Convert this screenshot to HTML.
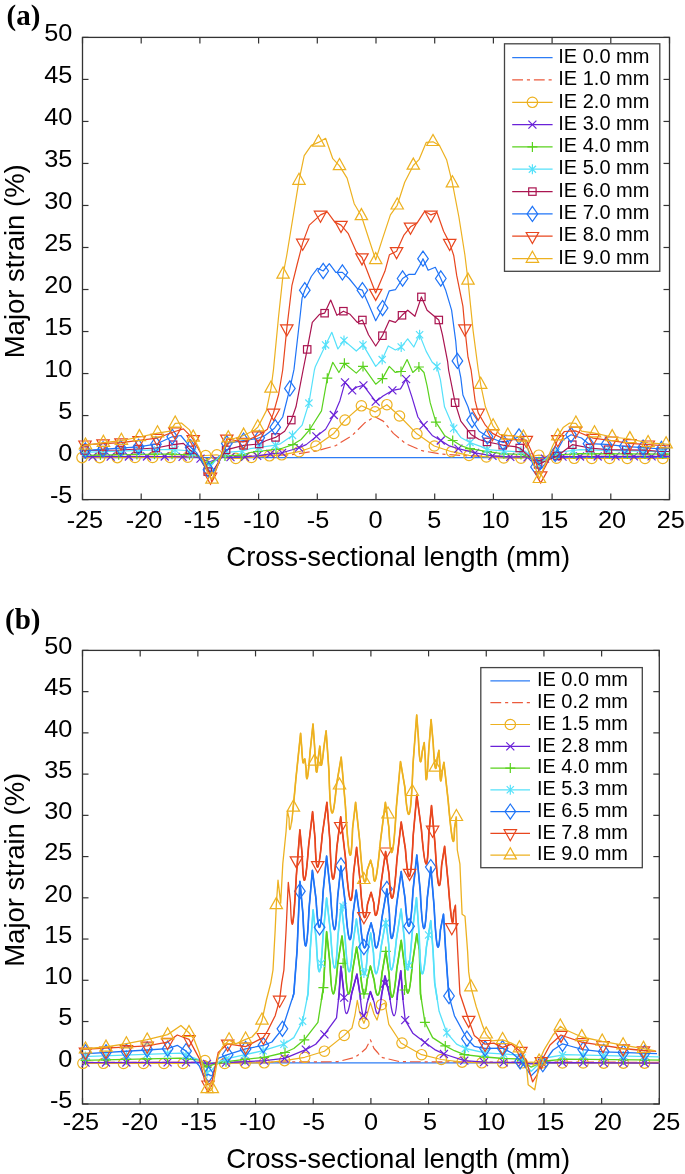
<!DOCTYPE html>
<html><head><meta charset="utf-8"><style>html,body{margin:0;padding:0;background:#fff;overflow:hidden}svg{display:block;will-change:transform}</style></head>
<body>
<svg width="685" height="1174" viewBox="0 0 685 1174">
<rect width="685" height="1174" fill="#fff"/>
<style>.tk{font-family:"Liberation Sans",sans-serif;font-size:23px;fill:#000}.lb{font-family:"Liberation Sans",sans-serif;font-size:27.5px;fill:#000}.lg{font-family:"Liberation Sans",sans-serif;font-size:20px;fill:#000}.pl{font-family:"Liberation Serif",serif;font-weight:bold;font-size:29px;fill:#000}</style>
<rect x="82.5" y="37.4" width="587.0" height="462.20000000000005" fill="none" stroke="#333333" stroke-width="1.3"/>
<line x1="82.50" y1="499.6" x2="82.50" y2="493.6" stroke="#333333" stroke-width="1.2"/>
<line x1="82.50" y1="37.4" x2="82.50" y2="43.4" stroke="#333333" stroke-width="1.2"/>
<line x1="141.20" y1="499.6" x2="141.20" y2="493.6" stroke="#333333" stroke-width="1.2"/>
<line x1="141.20" y1="37.4" x2="141.20" y2="43.4" stroke="#333333" stroke-width="1.2"/>
<line x1="199.90" y1="499.6" x2="199.90" y2="493.6" stroke="#333333" stroke-width="1.2"/>
<line x1="199.90" y1="37.4" x2="199.90" y2="43.4" stroke="#333333" stroke-width="1.2"/>
<line x1="258.60" y1="499.6" x2="258.60" y2="493.6" stroke="#333333" stroke-width="1.2"/>
<line x1="258.60" y1="37.4" x2="258.60" y2="43.4" stroke="#333333" stroke-width="1.2"/>
<line x1="317.30" y1="499.6" x2="317.30" y2="493.6" stroke="#333333" stroke-width="1.2"/>
<line x1="317.30" y1="37.4" x2="317.30" y2="43.4" stroke="#333333" stroke-width="1.2"/>
<line x1="376.00" y1="499.6" x2="376.00" y2="493.6" stroke="#333333" stroke-width="1.2"/>
<line x1="376.00" y1="37.4" x2="376.00" y2="43.4" stroke="#333333" stroke-width="1.2"/>
<line x1="434.70" y1="499.6" x2="434.70" y2="493.6" stroke="#333333" stroke-width="1.2"/>
<line x1="434.70" y1="37.4" x2="434.70" y2="43.4" stroke="#333333" stroke-width="1.2"/>
<line x1="493.40" y1="499.6" x2="493.40" y2="493.6" stroke="#333333" stroke-width="1.2"/>
<line x1="493.40" y1="37.4" x2="493.40" y2="43.4" stroke="#333333" stroke-width="1.2"/>
<line x1="552.10" y1="499.6" x2="552.10" y2="493.6" stroke="#333333" stroke-width="1.2"/>
<line x1="552.10" y1="37.4" x2="552.10" y2="43.4" stroke="#333333" stroke-width="1.2"/>
<line x1="610.80" y1="499.6" x2="610.80" y2="493.6" stroke="#333333" stroke-width="1.2"/>
<line x1="610.80" y1="37.4" x2="610.80" y2="43.4" stroke="#333333" stroke-width="1.2"/>
<line x1="669.50" y1="499.6" x2="669.50" y2="493.6" stroke="#333333" stroke-width="1.2"/>
<line x1="669.50" y1="37.4" x2="669.50" y2="43.4" stroke="#333333" stroke-width="1.2"/>
<line x1="82.5" y1="499.60" x2="88.5" y2="499.60" stroke="#333333" stroke-width="1.2"/>
<line x1="669.5" y1="499.60" x2="663.5" y2="499.60" stroke="#333333" stroke-width="1.2"/>
<line x1="82.5" y1="457.58" x2="88.5" y2="457.58" stroke="#333333" stroke-width="1.2"/>
<line x1="669.5" y1="457.58" x2="663.5" y2="457.58" stroke="#333333" stroke-width="1.2"/>
<line x1="82.5" y1="415.56" x2="88.5" y2="415.56" stroke="#333333" stroke-width="1.2"/>
<line x1="669.5" y1="415.56" x2="663.5" y2="415.56" stroke="#333333" stroke-width="1.2"/>
<line x1="82.5" y1="373.55" x2="88.5" y2="373.55" stroke="#333333" stroke-width="1.2"/>
<line x1="669.5" y1="373.55" x2="663.5" y2="373.55" stroke="#333333" stroke-width="1.2"/>
<line x1="82.5" y1="331.53" x2="88.5" y2="331.53" stroke="#333333" stroke-width="1.2"/>
<line x1="669.5" y1="331.53" x2="663.5" y2="331.53" stroke="#333333" stroke-width="1.2"/>
<line x1="82.5" y1="289.51" x2="88.5" y2="289.51" stroke="#333333" stroke-width="1.2"/>
<line x1="669.5" y1="289.51" x2="663.5" y2="289.51" stroke="#333333" stroke-width="1.2"/>
<line x1="82.5" y1="247.49" x2="88.5" y2="247.49" stroke="#333333" stroke-width="1.2"/>
<line x1="669.5" y1="247.49" x2="663.5" y2="247.49" stroke="#333333" stroke-width="1.2"/>
<line x1="82.5" y1="205.47" x2="88.5" y2="205.47" stroke="#333333" stroke-width="1.2"/>
<line x1="669.5" y1="205.47" x2="663.5" y2="205.47" stroke="#333333" stroke-width="1.2"/>
<line x1="82.5" y1="163.45" x2="88.5" y2="163.45" stroke="#333333" stroke-width="1.2"/>
<line x1="669.5" y1="163.45" x2="663.5" y2="163.45" stroke="#333333" stroke-width="1.2"/>
<line x1="82.5" y1="121.44" x2="88.5" y2="121.44" stroke="#333333" stroke-width="1.2"/>
<line x1="669.5" y1="121.44" x2="663.5" y2="121.44" stroke="#333333" stroke-width="1.2"/>
<line x1="82.5" y1="79.42" x2="88.5" y2="79.42" stroke="#333333" stroke-width="1.2"/>
<line x1="669.5" y1="79.42" x2="663.5" y2="79.42" stroke="#333333" stroke-width="1.2"/>
<line x1="82.5" y1="37.40" x2="88.5" y2="37.40" stroke="#333333" stroke-width="1.2"/>
<line x1="669.5" y1="37.40" x2="663.5" y2="37.40" stroke="#333333" stroke-width="1.2"/>
<text transform="translate(72.4,503.40) scale(1.1,1)" text-anchor="end" class="tk">-5</text>
<text transform="translate(72.4,461.38) scale(1.1,1)" text-anchor="end" class="tk">0</text>
<text transform="translate(72.4,419.36) scale(1.1,1)" text-anchor="end" class="tk">5</text>
<text transform="translate(72.4,377.35) scale(1.1,1)" text-anchor="end" class="tk">10</text>
<text transform="translate(72.4,335.33) scale(1.1,1)" text-anchor="end" class="tk">15</text>
<text transform="translate(72.4,293.31) scale(1.1,1)" text-anchor="end" class="tk">20</text>
<text transform="translate(72.4,251.29) scale(1.1,1)" text-anchor="end" class="tk">25</text>
<text transform="translate(72.4,209.27) scale(1.1,1)" text-anchor="end" class="tk">30</text>
<text transform="translate(72.4,167.25) scale(1.1,1)" text-anchor="end" class="tk">35</text>
<text transform="translate(72.4,125.24) scale(1.1,1)" text-anchor="end" class="tk">40</text>
<text transform="translate(72.4,83.22) scale(1.1,1)" text-anchor="end" class="tk">45</text>
<text transform="translate(72.4,41.20) scale(1.1,1)" text-anchor="end" class="tk">50</text>
<text transform="translate(84.90,528.3) scale(1.1,1)" text-anchor="middle" class="tk">-25</text>
<text transform="translate(144.00,528.3) scale(1.1,1)" text-anchor="middle" class="tk">-20</text>
<text transform="translate(202.10,528.3) scale(1.1,1)" text-anchor="middle" class="tk">-15</text>
<text transform="translate(261.50,528.3) scale(1.1,1)" text-anchor="middle" class="tk">-10</text>
<text transform="translate(318.10,528.3) scale(1.1,1)" text-anchor="middle" class="tk">-5</text>
<text transform="translate(375.60,528.3) scale(1.1,1)" text-anchor="middle" class="tk">0</text>
<text transform="translate(434.20,528.3) scale(1.1,1)" text-anchor="middle" class="tk">5</text>
<text transform="translate(495.50,528.3) scale(1.1,1)" text-anchor="middle" class="tk">10</text>
<text transform="translate(554.30,528.3) scale(1.1,1)" text-anchor="middle" class="tk">15</text>
<text transform="translate(612.10,528.3) scale(1.1,1)" text-anchor="middle" class="tk">20</text>
<text transform="translate(670.80,528.3) scale(1.1,1)" text-anchor="middle" class="tk">25</text>
<rect x="82.5" y="650.4" width="576.8" height="453.6" fill="none" stroke="#333333" stroke-width="1.3"/>
<line x1="82.50" y1="1104.0" x2="82.50" y2="1098.0" stroke="#333333" stroke-width="1.2"/>
<line x1="82.50" y1="650.4" x2="82.50" y2="656.4" stroke="#333333" stroke-width="1.2"/>
<line x1="140.18" y1="1104.0" x2="140.18" y2="1098.0" stroke="#333333" stroke-width="1.2"/>
<line x1="140.18" y1="650.4" x2="140.18" y2="656.4" stroke="#333333" stroke-width="1.2"/>
<line x1="197.86" y1="1104.0" x2="197.86" y2="1098.0" stroke="#333333" stroke-width="1.2"/>
<line x1="197.86" y1="650.4" x2="197.86" y2="656.4" stroke="#333333" stroke-width="1.2"/>
<line x1="255.54" y1="1104.0" x2="255.54" y2="1098.0" stroke="#333333" stroke-width="1.2"/>
<line x1="255.54" y1="650.4" x2="255.54" y2="656.4" stroke="#333333" stroke-width="1.2"/>
<line x1="313.22" y1="1104.0" x2="313.22" y2="1098.0" stroke="#333333" stroke-width="1.2"/>
<line x1="313.22" y1="650.4" x2="313.22" y2="656.4" stroke="#333333" stroke-width="1.2"/>
<line x1="370.90" y1="1104.0" x2="370.90" y2="1098.0" stroke="#333333" stroke-width="1.2"/>
<line x1="370.90" y1="650.4" x2="370.90" y2="656.4" stroke="#333333" stroke-width="1.2"/>
<line x1="428.58" y1="1104.0" x2="428.58" y2="1098.0" stroke="#333333" stroke-width="1.2"/>
<line x1="428.58" y1="650.4" x2="428.58" y2="656.4" stroke="#333333" stroke-width="1.2"/>
<line x1="486.26" y1="1104.0" x2="486.26" y2="1098.0" stroke="#333333" stroke-width="1.2"/>
<line x1="486.26" y1="650.4" x2="486.26" y2="656.4" stroke="#333333" stroke-width="1.2"/>
<line x1="543.94" y1="1104.0" x2="543.94" y2="1098.0" stroke="#333333" stroke-width="1.2"/>
<line x1="543.94" y1="650.4" x2="543.94" y2="656.4" stroke="#333333" stroke-width="1.2"/>
<line x1="601.62" y1="1104.0" x2="601.62" y2="1098.0" stroke="#333333" stroke-width="1.2"/>
<line x1="601.62" y1="650.4" x2="601.62" y2="656.4" stroke="#333333" stroke-width="1.2"/>
<line x1="659.30" y1="1104.0" x2="659.30" y2="1098.0" stroke="#333333" stroke-width="1.2"/>
<line x1="659.30" y1="650.4" x2="659.30" y2="656.4" stroke="#333333" stroke-width="1.2"/>
<line x1="82.5" y1="1104.00" x2="88.5" y2="1104.00" stroke="#333333" stroke-width="1.2"/>
<line x1="659.3" y1="1104.00" x2="653.3" y2="1104.00" stroke="#333333" stroke-width="1.2"/>
<line x1="82.5" y1="1062.76" x2="88.5" y2="1062.76" stroke="#333333" stroke-width="1.2"/>
<line x1="659.3" y1="1062.76" x2="653.3" y2="1062.76" stroke="#333333" stroke-width="1.2"/>
<line x1="82.5" y1="1021.53" x2="88.5" y2="1021.53" stroke="#333333" stroke-width="1.2"/>
<line x1="659.3" y1="1021.53" x2="653.3" y2="1021.53" stroke="#333333" stroke-width="1.2"/>
<line x1="82.5" y1="980.29" x2="88.5" y2="980.29" stroke="#333333" stroke-width="1.2"/>
<line x1="659.3" y1="980.29" x2="653.3" y2="980.29" stroke="#333333" stroke-width="1.2"/>
<line x1="82.5" y1="939.05" x2="88.5" y2="939.05" stroke="#333333" stroke-width="1.2"/>
<line x1="659.3" y1="939.05" x2="653.3" y2="939.05" stroke="#333333" stroke-width="1.2"/>
<line x1="82.5" y1="897.82" x2="88.5" y2="897.82" stroke="#333333" stroke-width="1.2"/>
<line x1="659.3" y1="897.82" x2="653.3" y2="897.82" stroke="#333333" stroke-width="1.2"/>
<line x1="82.5" y1="856.58" x2="88.5" y2="856.58" stroke="#333333" stroke-width="1.2"/>
<line x1="659.3" y1="856.58" x2="653.3" y2="856.58" stroke="#333333" stroke-width="1.2"/>
<line x1="82.5" y1="815.35" x2="88.5" y2="815.35" stroke="#333333" stroke-width="1.2"/>
<line x1="659.3" y1="815.35" x2="653.3" y2="815.35" stroke="#333333" stroke-width="1.2"/>
<line x1="82.5" y1="774.11" x2="88.5" y2="774.11" stroke="#333333" stroke-width="1.2"/>
<line x1="659.3" y1="774.11" x2="653.3" y2="774.11" stroke="#333333" stroke-width="1.2"/>
<line x1="82.5" y1="732.87" x2="88.5" y2="732.87" stroke="#333333" stroke-width="1.2"/>
<line x1="659.3" y1="732.87" x2="653.3" y2="732.87" stroke="#333333" stroke-width="1.2"/>
<line x1="82.5" y1="691.64" x2="88.5" y2="691.64" stroke="#333333" stroke-width="1.2"/>
<line x1="659.3" y1="691.64" x2="653.3" y2="691.64" stroke="#333333" stroke-width="1.2"/>
<line x1="82.5" y1="650.40" x2="88.5" y2="650.40" stroke="#333333" stroke-width="1.2"/>
<line x1="659.3" y1="650.40" x2="653.3" y2="650.40" stroke="#333333" stroke-width="1.2"/>
<text transform="translate(72.4,1107.80) scale(1.1,1)" text-anchor="end" class="tk">-5</text>
<text transform="translate(72.4,1066.56) scale(1.1,1)" text-anchor="end" class="tk">0</text>
<text transform="translate(72.4,1025.33) scale(1.1,1)" text-anchor="end" class="tk">5</text>
<text transform="translate(72.4,984.09) scale(1.1,1)" text-anchor="end" class="tk">10</text>
<text transform="translate(72.4,942.85) scale(1.1,1)" text-anchor="end" class="tk">15</text>
<text transform="translate(72.4,901.62) scale(1.1,1)" text-anchor="end" class="tk">20</text>
<text transform="translate(72.4,860.38) scale(1.1,1)" text-anchor="end" class="tk">25</text>
<text transform="translate(72.4,819.15) scale(1.1,1)" text-anchor="end" class="tk">30</text>
<text transform="translate(72.4,777.91) scale(1.1,1)" text-anchor="end" class="tk">35</text>
<text transform="translate(72.4,736.67) scale(1.1,1)" text-anchor="end" class="tk">40</text>
<text transform="translate(72.4,695.44) scale(1.1,1)" text-anchor="end" class="tk">45</text>
<text transform="translate(72.4,654.20) scale(1.1,1)" text-anchor="end" class="tk">50</text>
<text transform="translate(80.90,1130.3) scale(1.1,1)" text-anchor="middle" class="tk">-25</text>
<text transform="translate(139.80,1130.3) scale(1.1,1)" text-anchor="middle" class="tk">-20</text>
<text transform="translate(198.90,1130.3) scale(1.1,1)" text-anchor="middle" class="tk">-15</text>
<text transform="translate(257.50,1130.3) scale(1.1,1)" text-anchor="middle" class="tk">-10</text>
<text transform="translate(313.70,1130.3) scale(1.1,1)" text-anchor="middle" class="tk">-5</text>
<text transform="translate(371.00,1130.3) scale(1.1,1)" text-anchor="middle" class="tk">0</text>
<text transform="translate(430.10,1130.3) scale(1.1,1)" text-anchor="middle" class="tk">5</text>
<text transform="translate(491.20,1130.3) scale(1.1,1)" text-anchor="middle" class="tk">10</text>
<text transform="translate(550.30,1130.3) scale(1.1,1)" text-anchor="middle" class="tk">15</text>
<text transform="translate(607.70,1130.3) scale(1.1,1)" text-anchor="middle" class="tk">20</text>
<text transform="translate(666.30,1130.3) scale(1.1,1)" text-anchor="middle" class="tk">25</text>
<text x="6.5" y="24.6" class="pl">(a)</text>
<text x="5" y="628.8" class="pl">(b)</text>
<text x="226.3" y="566.3" class="lb">Cross-sectional length (mm)</text>
<text x="226.3" y="1167.6" class="lb">Cross-sectional length (mm)</text>
<text transform="translate(23.6,358.3) rotate(-90)" class="lb">Major strain (%)</text>
<text transform="translate(23.6,966.8) rotate(-90)" class="lb">Major strain (%)</text>
<polyline points="82.5,457.6 669.5,457.6" fill="none" stroke="#2d7cf5" stroke-width="1.2" stroke-linejoin="round"/>
<polyline points="82.5,456.3 190.0,456.3 200.0,457.5 210.0,459.0 220.0,457.0 250.0,455.8 290.9,454.8 317.4,450.7 335.8,445.6 352.2,435.4 364.5,423.1 374.7,416.6 383.2,421.1 393.4,433.4 405.7,443.6 422.0,450.7 442.4,454.2 467.0,455.8 500.0,456.3 528.0,456.5 539.0,459.0 550.0,456.5 669.5,456.3" fill="none" stroke="#eb5a3c" stroke-width="1.2" stroke-linejoin="round" stroke-dasharray="10.8,3.9,3.1,3.9"/>
<polyline points="82.5,457.6 170.0,457.5 190.0,457.2 205.7,455.5 216.9,454.8 228.0,458.5 240.0,458.4 259.2,456.9 269.4,455.8 281.7,454.8 299.0,451.7 316.0,446.0 333.8,433.4 345.0,420.1 361.4,405.8 375.1,411.9 386.9,404.7 399.5,416.0 416.9,433.8 434.3,446.0 451.6,451.7 469.0,455.4 486.4,456.9 503.8,458.0 521.0,458.2 538.8,455.2 557.0,458.3 669.5,458.5" fill="none" stroke="#edb120" stroke-width="1.2" stroke-linejoin="round"/>
<g fill="none" stroke="#edb120" stroke-width="1.2"><circle cx="82.0" cy="457.6" r="5.2"/><circle cx="99.7" cy="457.6" r="5.2"/><circle cx="117.3" cy="457.6" r="5.2"/><circle cx="135.0" cy="457.5" r="5.2"/><circle cx="152.6" cy="457.5" r="5.2"/><circle cx="170.2" cy="457.5" r="5.2"/><circle cx="187.8" cy="457.2" r="5.2"/><circle cx="205.7" cy="455.5" r="5.2"/><circle cx="216.9" cy="454.8" r="5.2"/><circle cx="235.8" cy="458.4" r="5.2"/><circle cx="251.5" cy="457.5" r="5.2"/><circle cx="269.4" cy="455.8" r="5.2"/><circle cx="281.7" cy="454.8" r="5.2"/><circle cx="299.0" cy="451.7" r="5.2"/><circle cx="316.0" cy="446.0" r="5.2"/><circle cx="333.8" cy="433.4" r="5.2"/><circle cx="345.0" cy="420.1" r="5.2"/><circle cx="361.4" cy="405.8" r="5.2"/><circle cx="375.1" cy="411.9" r="5.2"/><circle cx="386.9" cy="404.7" r="5.2"/><circle cx="399.5" cy="416.0" r="5.2"/><circle cx="416.9" cy="433.8" r="5.2"/><circle cx="434.3" cy="446.0" r="5.2"/><circle cx="451.6" cy="451.7" r="5.2"/><circle cx="469.0" cy="455.4" r="5.2"/><circle cx="486.4" cy="456.9" r="5.2"/><circle cx="503.8" cy="458.0" r="5.2"/><circle cx="521.0" cy="458.2" r="5.2"/><circle cx="538.8" cy="455.2" r="5.2"/><circle cx="556.5" cy="458.2" r="5.2"/><circle cx="574.2" cy="458.3" r="5.2"/><circle cx="591.8" cy="458.4" r="5.2"/><circle cx="609.6" cy="458.4" r="5.2"/><circle cx="627.3" cy="458.4" r="5.2"/><circle cx="645.0" cy="458.5" r="5.2"/><circle cx="662.8" cy="458.5" r="5.2"/></g>
<polyline points="82.5,456.6 165.0,456.5 196.0,457.0 209.7,461.8 222.0,457.2 245.0,456.9 257.2,455.8 270.4,453.8 282.1,452.8 299.0,447.7 306.2,444.6 316.4,436.4 325.6,429.3 333.8,415.0 339.9,400.7 345.0,382.3 352.2,390.4 357.0,387.0 363.4,385.3 375.7,401.7 383.0,396.0 392.4,390.4 400.5,388.9 406.1,379.2 411.8,396.6 417.9,417.0 423.6,425.2 432.2,435.4 440.8,440.5 448.6,445.6 458.4,448.7 475.1,452.8 492.5,455.8 510.3,456.9 525.0,456.8 539.4,460.4 552.0,456.6 669.5,456.3" fill="none" stroke="#6a22d8" stroke-width="1.2" stroke-linejoin="round"/>
<g fill="none" stroke="#6a22d8" stroke-width="1.2"><path d="M88.6,452.6L96.6,460.6M88.6,460.6L96.6,452.6"/><path d="M106.7,452.6L114.7,460.6M106.7,460.6L114.7,452.6"/><path d="M124.9,452.5L132.9,460.5M124.9,460.5L132.9,452.5"/><path d="M143.0,452.5L151.0,460.5M143.0,460.5L151.0,452.5"/><path d="M160.7,452.5L168.7,460.5M160.7,460.5L168.7,452.5"/><path d="M178.6,452.8L186.6,460.8M178.6,460.8L186.6,452.8"/><path d="M196.5,454.6L204.5,462.6M196.5,462.6L204.5,454.6"/><path d="M212.0,455.4L220.0,463.4M212.0,463.4L220.0,455.4"/><path d="M226.5,453.1L234.5,461.1M226.5,461.1L234.5,453.1"/><path d="M241.0,452.9L249.0,460.9M241.0,460.9L249.0,452.9"/><path d="M253.2,451.8L261.2,459.8M253.2,459.8L261.2,451.8"/><path d="M266.4,449.8L274.4,457.8M266.4,457.8L274.4,449.8"/><path d="M278.1,448.8L286.1,456.8M278.1,456.8L286.1,448.8"/><path d="M295.0,443.7L303.0,451.7M295.0,451.7L303.0,443.7"/><path d="M312.4,432.4L320.4,440.4M312.4,440.4L320.4,432.4"/><path d="M329.8,411.0L337.8,419.0M329.8,419.0L337.8,411.0"/><path d="M341.0,378.3L349.0,386.3M341.0,386.3L349.0,378.3"/><path d="M348.2,386.4L356.2,394.4M348.2,394.4L356.2,386.4"/><path d="M359.4,381.3L367.4,389.3M359.4,389.3L367.4,381.3"/><path d="M371.7,397.7L379.7,405.7M371.7,405.7L379.7,397.7"/><path d="M388.4,386.4L396.4,394.4M388.4,394.4L396.4,386.4"/><path d="M402.1,375.2L410.1,383.2M402.1,383.2L410.1,375.2"/><path d="M419.6,421.2L427.6,429.2M419.6,429.2L427.6,421.2"/><path d="M436.8,436.5L444.8,444.5M436.8,444.5L444.8,436.5"/><path d="M454.4,444.7L462.4,452.7M454.4,452.7L462.4,444.7"/><path d="M471.1,448.8L479.1,456.8M471.1,456.8L479.1,448.8"/><path d="M488.5,451.8L496.5,459.8M488.5,459.8L496.5,451.8"/><path d="M506.3,452.9L514.3,460.9M506.3,460.9L514.3,452.9"/><path d="M523.5,453.4L531.5,461.4M523.5,461.4L531.5,453.4"/><path d="M541.0,454.7L549.0,462.7M541.0,462.7L549.0,454.7"/><path d="M558.5,452.6L566.5,460.6M558.5,460.6L566.5,452.6"/><path d="M576.0,452.5L584.0,460.5M576.0,460.5L584.0,452.5"/><path d="M593.7,452.5L601.7,460.5M593.7,460.5L601.7,452.5"/><path d="M611.5,452.4L619.5,460.4M611.5,460.4L619.5,452.4"/><path d="M629.9,452.4L637.9,460.4M629.9,460.4L637.9,452.4"/><path d="M647.6,452.3L655.6,460.3M647.6,460.3L655.6,452.3"/></g>
<polyline points="82.5,455.3 165.0,454.0 196.0,455.0 208.4,464.4 222.0,456.0 241.7,455.2 250.0,452.5 280.7,448.7 292.9,444.6 301.1,439.5 309.9,429.3 321.5,410.9 327.3,378.2 332.8,362.3 338.9,372.5 344.4,363.3 356.3,373.1 363.0,366.4 375.7,384.2 382.4,378.6 389.3,366.4 395.4,372.5 401.0,371.5 407.1,359.6 412.8,372.5 418.9,367.0 424.0,372.5 427.1,385.8 430.2,402.7 435.9,422.1 444.5,435.4 452.7,440.5 460.8,445.6 470.0,448.7 487.4,451.7 503.8,453.8 522.0,454.5 539.4,462.0 555.0,455.0 580.0,453.6 669.5,454.1" fill="none" stroke="#5ad21e" stroke-width="1.2" stroke-linejoin="round"/>
<g fill="none" stroke="#5ad21e" stroke-width="1.2"><path d="M95.4,455.0H105.4M100.4,450.0V460.0"/><path d="M113.7,454.7H123.7M118.7,449.7V459.7"/><path d="M131.9,454.4H141.9M136.9,449.4V459.4"/><path d="M149.5,454.2H159.5M154.5,449.2V459.2"/><path d="M167.0,454.2H177.0M172.0,449.2V459.2"/><path d="M184.5,454.8H194.5M189.5,449.8V459.8"/><path d="M202.0,463.3H212.0M207.0,458.3V468.3"/><path d="M220.0,455.9H230.0M225.0,450.9V460.9"/><path d="M236.7,455.2H246.7M241.7,450.2V460.2"/><path d="M253.0,451.5H263.0M258.0,446.5V456.5"/><path d="M271.0,449.3H281.0M276.0,444.3V454.3"/><path d="M287.9,444.6H297.9M292.9,439.6V449.6"/><path d="M304.9,429.3H314.9M309.9,424.3V434.3"/><path d="M322.3,378.2H332.3M327.3,373.2V383.2"/><path d="M339.4,363.3H349.4M344.4,358.3V368.3"/><path d="M358.0,366.4H368.0M363.0,361.4V371.4"/><path d="M377.4,378.6H387.4M382.4,373.6V383.6"/><path d="M396.0,371.5H406.0M401.0,366.5V376.5"/><path d="M413.9,367.0H423.9M418.9,362.0V372.0"/><path d="M430.9,422.1H440.9M435.9,417.1V427.1"/><path d="M447.7,440.5H457.7M452.7,435.5V445.5"/><path d="M465.0,448.7H475.0M470.0,443.7V453.7"/><path d="M482.0,451.6H492.0M487.0,446.6V456.6"/><path d="M498.8,453.8H508.8M503.8,448.8V458.8"/><path d="M516.0,454.5H526.0M521.0,449.5V459.5"/><path d="M534.0,461.8H544.0M539.0,456.8V466.8"/><path d="M552.0,454.9H562.0M557.0,449.9V459.9"/><path d="M569.0,453.9H579.0M574.0,448.9V458.9"/><path d="M586.8,453.7H596.8M591.8,448.7V458.7"/><path d="M604.6,453.8H614.6M609.6,448.8V458.8"/><path d="M622.3,453.9H632.3M627.3,448.9V458.9"/><path d="M640.0,454.0H650.0M645.0,449.0V459.0"/><path d="M657.8,454.1H667.8M662.8,449.1V459.1"/></g>
<polyline points="82.5,452.3 170.0,449.4 185.0,450.5 196.5,453.9 208.4,468.3 222.8,452.6 242.3,451.2 250.0,448.7 275.5,445.2 280.7,443.6 292.5,435.4 302.1,425.2 308.9,403.1 314.4,370.0 315.4,366.4 325.6,344.9 331.8,332.3 337.9,349.0 344.0,340.4 356.3,351.0 363.0,344.9 375.7,366.4 382.2,359.6 388.3,345.9 395.4,350.0 401.2,347.0 407.7,338.8 413.8,347.0 419.6,334.7 426.1,351.1 432.2,362.3 436.9,366.4 440.4,379.7 444.5,406.8 453.7,428.2 460.8,437.4 470.0,442.6 481.3,446.6 487.0,449.7 515.0,451.7 525.0,451.0 539.4,464.4 552.0,453.0 580.0,449.7 669.5,451.9" fill="none" stroke="#55e1fa" stroke-width="1.2" stroke-linejoin="round"/>
<g fill="none" stroke="#55e1fa" stroke-width="1.2"><path d="M86.0,447.2V457.2M82.4,448.6L89.6,455.8M82.4,455.8L89.6,448.6"/><path d="M104.0,446.6V456.6M100.4,448.0L107.6,455.2M100.4,455.2L107.6,448.0"/><path d="M121.8,446.0V456.0M118.2,447.4L125.4,454.6M118.2,454.6L125.4,447.4"/><path d="M139.6,445.4V455.4M136.0,446.8L143.2,454.0M136.0,454.0L143.2,446.8"/><path d="M157.4,444.8V454.8M153.8,446.2L161.0,453.4M153.8,453.4L161.0,446.2"/><path d="M175.0,444.8V454.8M171.4,446.2L178.6,453.4M171.4,453.4L178.6,446.2"/><path d="M192.5,447.7V457.7M188.9,449.1L196.1,456.3M188.9,456.3L196.1,449.1"/><path d="M210.0,461.6V471.6M206.4,463.0L213.6,470.2M206.4,470.2L213.6,463.0"/><path d="M225.3,447.4V457.4M221.7,448.8L228.9,456.0M221.7,456.0L228.9,448.8"/><path d="M242.3,446.2V456.2M238.7,447.6L245.9,454.8M238.7,454.8L245.9,447.6"/><path d="M259.0,442.5V452.5M255.4,443.9L262.6,451.1M255.4,451.1L262.6,443.9"/><path d="M275.5,440.2V450.2M271.9,441.6L279.1,448.8M271.9,448.8L279.1,441.6"/><path d="M292.5,430.4V440.4M288.9,431.8L296.1,439.0M288.9,439.0L296.1,431.8"/><path d="M308.9,398.1V408.1M305.3,399.5L312.5,406.7M305.3,406.7L312.5,399.5"/><path d="M325.6,339.9V349.9M322.0,341.3L329.2,348.5M322.0,348.5L329.2,341.3"/><path d="M344.0,335.4V345.4M340.4,336.8L347.6,344.0M340.4,344.0L347.6,336.8"/><path d="M363.0,339.9V349.9M359.4,341.3L366.6,348.5M359.4,348.5L366.6,341.3"/><path d="M382.2,354.6V364.6M378.6,356.0L385.8,363.2M378.6,363.2L385.8,356.0"/><path d="M401.2,342.0V352.0M397.6,343.4L404.8,350.6M397.6,350.6L404.8,343.4"/><path d="M419.6,329.7V339.7M416.0,331.1L423.2,338.3M416.0,338.3L423.2,331.1"/><path d="M436.9,361.4V371.4M433.3,362.8L440.5,370.0M433.3,370.0L440.5,362.8"/><path d="M453.7,423.2V433.2M450.1,424.6L457.3,431.8M450.1,431.8L457.3,424.6"/><path d="M470.0,437.6V447.6M466.4,439.0L473.6,446.2M466.4,446.2L473.6,439.0"/><path d="M487.0,444.7V454.7M483.4,446.1L490.6,453.3M483.4,453.3L490.6,446.1"/><path d="M504.0,445.9V455.9M500.4,447.3L507.6,454.5M500.4,454.5L507.6,447.3"/><path d="M521.0,446.3V456.3M517.4,447.7L524.6,454.9M517.4,454.9L524.6,447.7"/><path d="M539.0,459.0V469.0M535.4,460.4L542.6,467.6M535.4,467.6L542.6,460.4"/><path d="M556.0,447.5V457.5M552.4,448.9L559.6,456.1M552.4,456.1L559.6,448.9"/><path d="M573.0,445.5V455.5M569.4,446.9L576.6,454.1M569.4,454.1L576.6,446.9"/><path d="M590.0,444.9V454.9M586.4,446.3L593.6,453.5M586.4,453.5L593.6,446.3"/><path d="M608.0,445.4V455.4M604.4,446.8L611.6,454.0M604.4,454.0L611.6,446.8"/><path d="M626.0,445.8V455.8M622.4,447.2L629.6,454.4M622.4,454.4L629.6,447.2"/><path d="M644.0,446.3V456.3M640.4,447.7L647.6,454.9M640.4,454.9L647.6,447.7"/><path d="M662.0,446.7V456.7M658.4,448.1L665.6,455.3M658.4,455.3L665.6,448.1"/></g>
<polyline points="82.5,450.5 120.0,450.0 155.9,448.0 173.1,444.7 183.4,443.4 190.0,449.9 197.8,455.2 207.7,471.6 213.0,471.0 226.1,449.9 243.6,445.3 259.2,444.0 266.3,440.5 275.5,437.4 284.7,431.3 291.3,420.1 296.0,406.8 303.1,370.0 307.2,349.4 312.3,322.4 319.5,314.3 324.6,313.2 330.7,300.0 336.9,315.3 343.4,311.2 350.1,314.3 357.3,322.4 362.4,320.0 368.5,334.7 375.7,346.0 382.4,335.7 389.3,320.4 395.4,322.4 402.0,315.3 407.7,310.2 414.9,316.3 421.4,296.9 427.1,310.2 438.8,320.0 442.4,334.7 447.6,361.3 448.6,370.0 455.1,402.7 460.8,421.1 471.1,434.4 479.2,439.5 487.0,441.9 497.6,444.0 502.7,445.2 515.0,446.6 519.7,448.0 538.1,464.4 557.2,456.0 572.3,444.7 589.9,448.0 607.9,449.7 626.2,449.9 643.7,450.2 661.5,451.5 669.5,451.5" fill="none" stroke="#aa1450" stroke-width="1.2" stroke-linejoin="round"/>
<g fill="none" stroke="#aa1450" stroke-width="1.2"><rect x="80.9" y="446.8" width="7.4" height="7.4"/><rect x="98.6" y="446.5" width="7.4" height="7.4"/><rect x="116.3" y="446.3" width="7.4" height="7.4"/><rect x="134.1" y="445.3" width="7.4" height="7.4"/><rect x="152.2" y="444.3" width="7.4" height="7.4"/><rect x="169.4" y="441.0" width="7.4" height="7.4"/><rect x="186.3" y="446.2" width="7.4" height="7.4"/><rect x="204.0" y="467.9" width="7.4" height="7.4"/><rect x="222.4" y="446.2" width="7.4" height="7.4"/><rect x="239.9" y="441.6" width="7.4" height="7.4"/><rect x="255.5" y="440.3" width="7.4" height="7.4"/><rect x="271.8" y="433.7" width="7.4" height="7.4"/><rect x="287.6" y="416.4" width="7.4" height="7.4"/><rect x="303.5" y="345.7" width="7.4" height="7.4"/><rect x="320.9" y="309.5" width="7.4" height="7.4"/><rect x="339.7" y="307.5" width="7.4" height="7.4"/><rect x="358.7" y="316.3" width="7.4" height="7.4"/><rect x="378.7" y="332.0" width="7.4" height="7.4"/><rect x="398.3" y="311.6" width="7.4" height="7.4"/><rect x="417.7" y="293.2" width="7.4" height="7.4"/><rect x="435.1" y="316.3" width="7.4" height="7.4"/><rect x="451.4" y="399.0" width="7.4" height="7.4"/><rect x="467.4" y="430.7" width="7.4" height="7.4"/><rect x="483.3" y="438.2" width="7.4" height="7.4"/><rect x="499.0" y="441.5" width="7.4" height="7.4"/><rect x="516.0" y="444.3" width="7.4" height="7.4"/><rect x="534.4" y="460.7" width="7.4" height="7.4"/><rect x="553.5" y="452.3" width="7.4" height="7.4"/><rect x="568.6" y="441.0" width="7.4" height="7.4"/><rect x="586.2" y="444.3" width="7.4" height="7.4"/><rect x="604.2" y="446.0" width="7.4" height="7.4"/><rect x="622.5" y="446.2" width="7.4" height="7.4"/><rect x="640.0" y="446.5" width="7.4" height="7.4"/><rect x="657.8" y="447.8" width="7.4" height="7.4"/></g>
<polyline points="82.5,450.7 138.5,446.8 155.9,444.2 172.2,436.8 180.8,435.5 190.6,447.3 196.5,452.6 204.4,465.7 212.3,473.6 218.0,465.0 226.8,443.4 243.6,440.7 257.2,438.5 264.3,436.0 274.5,428.2 282.7,417.0 289.9,388.4 294.0,369.4 300.1,316.3 302.1,297.9 304.8,290.2 311.3,276.5 317.4,268.3 323.2,271.0 329.3,263.6 335.8,272.4 342.4,272.4 349.1,278.5 357.3,288.7 362.4,290.2 368.5,304.0 375.7,320.8 382.6,308.1 389.3,290.8 395.4,289.7 402.6,278.5 408.7,274.4 414.9,274.4 420.0,265.2 423.0,258.7 428.1,270.3 435.3,267.3 440.8,278.5 445.5,289.7 451.6,310.2 455.7,340.8 457.4,360.9 460.8,377.6 462.9,395.0 468.0,406.8 472.1,420.1 479.2,431.3 487.4,436.4 497.6,440.5 503.3,442.5 512.0,440.0 519.0,436.5 525.0,440.0 532.8,464.4 540.0,470.0 548.0,460.0 555.2,453.9 563.0,440.0 571.0,434.8 581.5,438.0 588.5,443.7 606.3,444.4 624.7,446.3 643.1,447.6 661.5,449.0 669.5,448.3" fill="none" stroke="#1f74f7" stroke-width="1.2" stroke-linejoin="round"/>
<g fill="none" stroke="#1f74f7" stroke-width="1.2"><path d="M85.3,442.9L90.6,450.5L85.3,458.1L80.0,450.5Z"/><path d="M103.0,441.7L108.3,449.3L103.0,456.9L97.7,449.3Z"/><path d="M120.7,440.4L126.0,448.0L120.7,455.6L115.4,448.0Z"/><path d="M138.5,439.2L143.8,446.8L138.5,454.4L133.2,446.8Z"/><path d="M155.9,436.6L161.2,444.2L155.9,451.8L150.6,444.2Z"/><path d="M172.2,429.2L177.5,436.8L172.2,444.4L166.9,436.8Z"/><path d="M190.6,439.7L195.9,447.3L190.6,454.9L185.3,447.3Z"/><path d="M208.5,462.2L213.8,469.8L208.5,477.4L203.2,469.8Z"/><path d="M226.8,435.8L232.1,443.4L226.8,451.0L221.5,443.4Z"/><path d="M243.6,433.1L248.9,440.7L243.6,448.3L238.3,440.7Z"/><path d="M259.2,430.2L264.5,437.8L259.2,445.4L253.9,437.8Z"/><path d="M275.2,419.6L280.5,427.2L275.2,434.8L269.9,427.2Z"/><path d="M289.9,380.8L295.2,388.4L289.9,396.0L284.6,388.4Z"/><path d="M304.8,282.6L310.1,290.2L304.8,297.8L299.5,290.2Z"/><path d="M323.2,263.4L328.5,271.0L323.2,278.6L317.9,271.0Z"/><path d="M342.4,264.8L347.7,272.4L342.4,280.0L337.1,272.4Z"/><path d="M362.4,282.6L367.7,290.2L362.4,297.8L357.1,290.2Z"/><path d="M382.6,300.5L387.9,308.1L382.6,315.7L377.3,308.1Z"/><path d="M402.6,270.9L407.9,278.5L402.6,286.1L397.3,278.5Z"/><path d="M423.0,251.1L428.3,258.7L423.0,266.3L417.7,258.7Z"/><path d="M440.8,270.9L446.1,278.5L440.8,286.1L435.5,278.5Z"/><path d="M457.4,353.3L462.7,360.9L457.4,368.5L452.1,360.9Z"/><path d="M472.1,412.5L477.4,420.1L472.1,427.7L466.8,420.1Z"/><path d="M487.4,428.8L492.7,436.4L487.4,444.0L482.1,436.4Z"/><path d="M503.3,434.9L508.6,442.5L503.3,450.1L498.0,442.5Z"/><path d="M519.0,428.9L524.3,436.5L519.0,444.1L513.7,436.5Z"/><path d="M536.0,459.3L541.3,466.9L536.0,474.5L530.7,466.9Z"/><path d="M555.2,446.3L560.5,453.9L555.2,461.5L549.9,453.9Z"/><path d="M571.0,427.2L576.3,434.8L571.0,442.4L565.7,434.8Z"/><path d="M588.5,436.1L593.8,443.7L588.5,451.3L583.2,443.7Z"/><path d="M606.3,436.8L611.6,444.4L606.3,452.0L601.0,444.4Z"/><path d="M624.7,438.7L630.0,446.3L624.7,453.9L619.4,446.3Z"/><path d="M643.1,440.0L648.4,447.6L643.1,455.2L637.8,447.6Z"/><path d="M661.5,441.4L666.8,449.0L661.5,456.6L656.2,449.0Z"/></g>
<polyline points="82.5,444.8 121.0,442.6 157.0,438.1 174.9,431.5 183.4,428.9 191.3,436.8 193.2,439.4 201.8,455.2 209.7,473.6 211.6,481.5 218.0,465.0 226.8,438.8 243.0,442.0 258.1,435.5 267.4,429.3 273.5,412.9 278.6,394.5 282.7,370.0 286.8,328.6 291.9,285.7 297.0,265.0 302.7,242.9 309.3,225.1 320.5,214.9 327.3,211.9 334.8,222.1 341.0,225.1 348.1,233.3 356.3,251.7 362.0,257.5 375.7,293.0 384.9,271.3 389.4,254.8 396.6,251.3 403.7,235.4 410.5,226.8 417.0,223.1 424.8,211.2 430.9,214.9 437.0,212.5 443.6,231.3 449.7,243.1 453.8,255.8 456.7,275.4 462.9,306.1 464.9,328.6 468.0,357.2 471.1,370.0 475.1,400.7 478.2,412.9 485.4,425.2 492.5,433.4 501.7,438.0 507.9,439.4 526.3,440.1 533.0,455.0 540.7,475.5 552.6,452.6 557.8,439.4 564.4,431.5 575.5,430.9 580.0,432.8 593.1,438.1 611.5,440.7 629.9,443.4 648.3,444.7 669.5,446.0" fill="none" stroke="#e8461e" stroke-width="1.2" stroke-linejoin="round"/>
<g fill="none" stroke="#e8461e" stroke-width="1.2"><path d="M78.8,441.0H91.2L85.0,452.1Z"/><path d="M96.8,439.9H109.2L103.0,451.0Z"/><path d="M114.8,438.9H127.2L121.0,450.0Z"/><path d="M132.8,436.7H145.2L139.0,447.8Z"/><path d="M150.8,434.4H163.2L157.0,445.5Z"/><path d="M168.7,427.8H181.1L174.9,438.9Z"/><path d="M187.0,435.7H199.4L193.2,446.8Z"/><path d="M204.3,473.2H216.7L210.5,484.3Z"/><path d="M220.6,435.1H233.0L226.8,446.2Z"/><path d="M236.8,438.3H249.2L243.0,449.4Z"/><path d="M251.9,431.8H264.3L258.1,442.9Z"/><path d="M267.3,409.2H279.7L273.5,420.3Z"/><path d="M280.6,324.9H293.0L286.8,336.0Z"/><path d="M296.5,239.2H308.9L302.7,250.3Z"/><path d="M314.3,211.2H326.7L320.5,222.3Z"/><path d="M334.8,221.4H347.2L341.0,232.5Z"/><path d="M355.8,253.8H368.2L362.0,264.9Z"/><path d="M369.5,289.3H381.9L375.7,300.4Z"/><path d="M390.4,247.6H402.8L396.6,258.7Z"/><path d="M404.3,223.1H416.7L410.5,234.2Z"/><path d="M424.7,211.2H437.1L430.9,222.3Z"/><path d="M443.5,239.4H455.9L449.7,250.5Z"/><path d="M458.7,324.9H471.1L464.9,336.0Z"/><path d="M472.0,409.2H484.4L478.2,420.3Z"/><path d="M486.3,429.7H498.7L492.5,440.8Z"/><path d="M501.7,435.7H514.1L507.9,446.8Z"/><path d="M520.1,436.4H532.5L526.3,447.5Z"/><path d="M534.5,471.8H546.9L540.7,482.9Z"/><path d="M551.6,435.7H564.0L557.8,446.8Z"/><path d="M569.3,427.2H581.7L575.5,438.3Z"/><path d="M586.9,434.4H599.3L593.1,445.5Z"/><path d="M605.3,437.0H617.7L611.5,448.1Z"/><path d="M623.7,439.7H636.1L629.9,450.8Z"/><path d="M642.1,441.0H654.5L648.3,452.1Z"/></g>
<polyline points="82.5,446.7 85.5,445.3 103.4,442.7 121.4,440.6 139.4,437.0 157.5,433.1 170.0,431.1 175.2,423.4 181.4,423.0 189.3,429.6 193.2,437.4 199.2,448.6 207.0,471.0 212.0,479.5 221.5,455.2 228.3,438.1 233.3,438.8 243.6,435.5 254.3,430.2 257.8,427.2 266.3,410.9 271.0,388.4 273.5,369.4 278.6,316.3 283.1,274.4 286.8,255.0 299.0,180.6 304.2,155.7 311.3,145.4 318.5,142.4 325.6,138.3 332.8,158.7 339.5,165.9 347.1,178.1 354.2,203.7 361.4,216.0 375.7,259.9 382.3,239.4 390.4,214.9 397.2,205.3 404.7,182.2 413.3,165.5 419.0,159.7 426.2,142.4 433.0,141.8 439.5,145.4 446.6,159.7 452.4,183.2 458.9,217.0 464.9,255.0 468.0,280.5 473.1,330.6 478.2,369.5 480.7,384.7 485.4,406.8 493.1,426.2 499.7,434.4 507.8,435.4 515.0,436.0 523.4,437.4 529.6,452.6 535.5,468.3 539.4,478.8 552.6,446.0 557.8,436.1 563.1,427.6 569.6,423.0 575.9,423.4 581.5,431.1 594.5,433.1 612.2,437.0 629.9,439.0 648.1,442.9 666.1,444.2 669.5,444.5" fill="none" stroke="#edb120" stroke-width="1.2" stroke-linejoin="round"/>
<g fill="none" stroke="#edb120" stroke-width="1.2"><path d="M79.3,449.0H91.7L85.5,437.9Z"/><path d="M97.2,446.4H109.6L103.4,435.3Z"/><path d="M115.2,444.3H127.6L121.4,433.2Z"/><path d="M133.2,440.7H145.6L139.4,429.6Z"/><path d="M151.3,436.8H163.7L157.5,425.7Z"/><path d="M169.0,427.1H181.4L175.2,416.0Z"/><path d="M187.0,441.1H199.4L193.2,430.0Z"/><path d="M205.8,483.2H218.2L212.0,472.1Z"/><path d="M222.1,441.8H234.5L228.3,430.7Z"/><path d="M237.4,439.2H249.8L243.6,428.1Z"/><path d="M251.6,430.9H264.0L257.8,419.8Z"/><path d="M264.8,392.1H277.2L271.0,381.0Z"/><path d="M276.9,278.1H289.3L283.1,267.0Z"/><path d="M292.8,184.3H305.2L299.0,173.2Z"/><path d="M312.3,146.1H324.7L318.5,135.0Z"/><path d="M333.3,169.6H345.7L339.5,158.5Z"/><path d="M355.2,219.7H367.6L361.4,208.6Z"/><path d="M369.5,263.6H381.9L375.7,252.5Z"/><path d="M391.0,209.0H403.4L397.2,197.9Z"/><path d="M407.1,169.2H419.5L413.3,158.1Z"/><path d="M426.8,145.5H439.2L433.0,134.4Z"/><path d="M446.2,186.9H458.6L452.4,175.8Z"/><path d="M461.8,284.2H474.2L468.0,273.1Z"/><path d="M474.5,388.4H486.9L480.7,377.3Z"/><path d="M486.9,429.9H499.3L493.1,418.8Z"/><path d="M501.6,439.1H514.0L507.8,428.0Z"/><path d="M517.2,441.1H529.6L523.4,430.0Z"/><path d="M533.2,482.5H545.6L539.4,471.4Z"/><path d="M551.6,439.8H564.0L557.8,428.7Z"/><path d="M569.7,427.1H582.1L575.9,416.0Z"/><path d="M588.3,436.8H600.7L594.5,425.7Z"/><path d="M606.0,440.7H618.4L612.2,429.6Z"/><path d="M623.7,442.7H636.1L629.9,431.6Z"/><path d="M641.9,446.6H654.3L648.1,435.5Z"/><path d="M659.9,447.9H672.3L666.1,436.8Z"/></g>
<rect x="504.5" y="43.8" width="155.29999999999995" height="227.5" fill="#fff" stroke="#444" stroke-width="1.3"/>
<polyline points="512.2,57.6 552.6,57.6" fill="none" stroke="#2d7cf5" stroke-width="1.2" stroke-linejoin="round"/>
<text x="558.3" y="62.8" class="lg">IE 0.0 mm</text>
<polyline points="512.2,79.9 552.6,79.9" fill="none" stroke="#eb5a3c" stroke-width="1.2" stroke-linejoin="round" stroke-dasharray="10.8,3.9,3.1,3.9"/>
<text x="558.3" y="85.1" class="lg">IE 1.0 mm</text>
<polyline points="512.2,102.3 552.6,102.3" fill="none" stroke="#edb120" stroke-width="1.2" stroke-linejoin="round"/>
<g fill="none" stroke="#edb120" stroke-width="1.2"><circle cx="532.4" cy="102.3" r="5.2"/></g>
<text x="558.3" y="107.5" class="lg">IE 2.0 mm</text>
<polyline points="512.2,124.6 552.6,124.6" fill="none" stroke="#6a22d8" stroke-width="1.2" stroke-linejoin="round"/>
<g fill="none" stroke="#6a22d8" stroke-width="1.2"><path d="M528.4,120.6L536.4,128.6M528.4,128.6L536.4,120.6"/></g>
<text x="558.3" y="129.8" class="lg">IE 3.0 mm</text>
<polyline points="512.2,146.9 552.6,146.9" fill="none" stroke="#5ad21e" stroke-width="1.2" stroke-linejoin="round"/>
<g fill="none" stroke="#5ad21e" stroke-width="1.2"><path d="M527.4,146.9H537.4M532.4,141.9V151.9"/></g>
<text x="558.3" y="152.1" class="lg">IE 4.0 mm</text>
<polyline points="512.2,169.2 552.6,169.2" fill="none" stroke="#55e1fa" stroke-width="1.2" stroke-linejoin="round"/>
<g fill="none" stroke="#55e1fa" stroke-width="1.2"><path d="M532.4,164.2V174.2M528.8,165.7L536.0,172.8M528.8,172.8L536.0,165.7"/></g>
<text x="558.3" y="174.4" class="lg">IE 5.0 mm</text>
<polyline points="512.2,191.6 552.6,191.6" fill="none" stroke="#aa1450" stroke-width="1.2" stroke-linejoin="round"/>
<g fill="none" stroke="#aa1450" stroke-width="1.2"><rect x="528.7" y="187.9" width="7.4" height="7.4"/></g>
<text x="558.3" y="196.8" class="lg">IE 6.0 mm</text>
<polyline points="512.2,213.9 552.6,213.9" fill="none" stroke="#1f74f7" stroke-width="1.2" stroke-linejoin="round"/>
<g fill="none" stroke="#1f74f7" stroke-width="1.2"><path d="M532.4,206.3L537.7,213.9L532.4,221.5L527.1,213.9Z"/></g>
<text x="558.3" y="219.1" class="lg">IE 7.0 mm</text>
<polyline points="512.2,236.2 552.6,236.2" fill="none" stroke="#e8461e" stroke-width="1.2" stroke-linejoin="round"/>
<g fill="none" stroke="#e8461e" stroke-width="1.2"><path d="M526.2,232.5H538.6L532.4,243.6Z"/></g>
<text x="558.3" y="241.4" class="lg">IE 8.0 mm</text>
<polyline points="512.2,258.6 552.6,258.6" fill="none" stroke="#edb120" stroke-width="1.2" stroke-linejoin="round"/>
<g fill="none" stroke="#edb120" stroke-width="1.2"><path d="M526.2,262.3H538.6L532.4,251.2Z"/></g>
<text x="558.3" y="263.8" class="lg">IE 9.0 mm</text>
<defs><clipPath id="cc"><rect x="292" y="640" width="164" height="360"/></clipPath></defs>
<polyline points="82.5,1062.8 659.3,1062.8" fill="none" stroke="#2d7cf5" stroke-width="1.2" stroke-linejoin="round"/>
<polyline points="82.5,1062.3 200.0,1062.3 209.0,1064.0 218.0,1062.3 337.6,1061.7 355.1,1057.3 362.0,1052.0 366.0,1048.5 370.4,1039.8 374.0,1048.5 378.0,1053.0 381.4,1057.3 400.0,1061.7 520.0,1062.1 532.0,1064.0 545.0,1062.1 659.3,1062.3" fill="none" stroke="#eb5a3c" stroke-width="1.2" stroke-linejoin="round" stroke-dasharray="10.8,3.9,3.1,3.9"/>
<polyline points="82.5,1063.3 183.1,1063.5 200.0,1062.0 205.0,1060.6 212.0,1064.0 222.0,1063.5 264.2,1062.8 284.6,1060.6 304.7,1057.3 324.4,1051.2 344.2,1035.4 352.0,1028.0 355.0,1015.0 357.3,1000.4 359.5,1012.0 363.9,1023.4 367.0,1015.0 370.4,1002.6 374.0,1014.0 377.0,1020.1 381.4,1004.7 385.0,1003.0 388.8,1024.4 401.0,1043.0 421.6,1054.7 441.3,1059.5 462.1,1062.1 481.8,1062.8 502.6,1062.8 520.0,1063.0 531.0,1062.0 545.0,1063.0 659.3,1063.1" fill="none" stroke="#edb120" stroke-width="1.2" stroke-linejoin="round"/>
<g fill="none" stroke="#edb120" stroke-width="1.2"><circle cx="82.9" cy="1063.3" r="5.2"/><circle cx="103.4" cy="1063.3" r="5.2"/><circle cx="123.5" cy="1063.4" r="5.2"/><circle cx="143.5" cy="1063.4" r="5.2"/><circle cx="163.9" cy="1063.5" r="5.2"/><circle cx="183.1" cy="1063.5" r="5.2"/><circle cx="205.0" cy="1060.6" r="5.2"/><circle cx="224.7" cy="1063.5" r="5.2"/><circle cx="245.2" cy="1063.1" r="5.2"/><circle cx="264.2" cy="1062.8" r="5.2"/><circle cx="284.6" cy="1060.6" r="5.2"/><circle cx="304.7" cy="1057.3" r="5.2"/><circle cx="324.4" cy="1051.2" r="5.2"/><circle cx="344.2" cy="1035.4" r="5.2"/><circle cx="363.9" cy="1023.4" r="5.2"/><circle cx="381.4" cy="1004.7" r="5.2"/><circle cx="402.0" cy="1043.1" r="5.2"/><circle cx="421.6" cy="1054.7" r="5.2"/><circle cx="441.3" cy="1059.5" r="5.2"/><circle cx="462.1" cy="1062.1" r="5.2"/><circle cx="481.8" cy="1062.8" r="5.2"/><circle cx="502.6" cy="1062.8" r="5.2"/><circle cx="522.3" cy="1062.8" r="5.2"/><circle cx="542.8" cy="1062.8" r="5.2"/><circle cx="562.5" cy="1063.0" r="5.2"/><circle cx="583.2" cy="1063.0" r="5.2"/><circle cx="603.7" cy="1063.1" r="5.2"/><circle cx="623.4" cy="1063.1" r="5.2"/><circle cx="644.6" cy="1063.1" r="5.2"/></g>
<path d="M82.5,1062.6L180.0,1062.3L200.0,1062.5L209.0,1064.2L218.0,1063.0L264.2,1060.6L284.6,1058.4L305.8,1049.6L315.7,1044.2L324.4,1034.3L336.5,1017.9L339.0,995.0L340.9,966.4L343.6,990.0Q345.0,1035.1 351.6,993.8L356.9,974.1L360.1,994.9Q363.3,1032.1 366.9,1003.7L370.4,991.6L374.2,1002.5Q378.3,1028.3 381.6,994.8L385.0,976.0L389.6,995.9Q394.8,1036.9 397.5,993.2L400.8,970.8L403.0,1000.0L405.2,1020.1L412.8,1033.2L424.9,1042.4L434.7,1049.6L443.9,1054.0L464.3,1060.6L484.0,1062.1L520.0,1062.5L531.0,1063.8L545.0,1062.5L659.3,1063.1" fill="none" stroke="#6a22d8" stroke-width="1.3" stroke-linejoin="round"/>
<path d="M82.5,1062.6L180.0,1062.3L200.0,1062.5L209.0,1064.2L218.0,1063.0L264.2,1060.6L284.6,1058.4L305.8,1049.6L315.7,1044.2L324.4,1034.3L336.5,1017.9L339.0,995.0L340.9,966.4L343.6,990.0Q345.0,1035.1 351.6,993.8L356.9,974.1L360.1,994.9Q363.3,1032.1 366.9,1003.7L370.4,991.6L374.2,1002.5Q378.3,1028.3 381.6,994.8L385.0,976.0L389.6,995.9Q394.8,1036.9 397.5,993.2L400.8,970.8L403.0,1000.0L405.2,1020.1L412.8,1033.2L424.9,1042.4L434.7,1049.6L443.9,1054.0L464.3,1060.6L484.0,1062.1L520.0,1062.5L531.0,1063.8L545.0,1062.5L659.3,1063.1" fill="none" stroke="#6a22d8" stroke-width="1.65" stroke-linejoin="round" clip-path="url(#cc)"/>
<g fill="none" stroke="#6a22d8" stroke-width="1.2"><path d="M81.5,1058.6L89.5,1066.6M81.5,1066.6L89.5,1058.6"/><path d="M102.0,1058.5L110.0,1066.5M102.0,1066.5L110.0,1058.5"/><path d="M122.4,1058.5L130.4,1066.5M122.4,1066.5L130.4,1058.5"/><path d="M143.2,1058.4L151.2,1066.4M143.2,1066.4L151.2,1058.4"/><path d="M163.6,1058.3L171.6,1066.3M163.6,1066.3L171.6,1058.3"/><path d="M182.0,1058.4L190.0,1066.4M182.0,1066.4L190.0,1058.4"/><path d="M203.0,1059.8L211.0,1067.8M203.0,1067.8L211.0,1059.8"/><path d="M222.0,1058.6L230.0,1066.6M222.0,1066.6L230.0,1058.6"/><path d="M241.0,1057.6L249.0,1065.6M241.0,1065.6L249.0,1057.6"/><path d="M260.2,1056.6L268.2,1064.6M260.2,1064.6L268.2,1056.6"/><path d="M280.6,1054.4L288.6,1062.4M280.6,1062.4L288.6,1054.4"/><path d="M301.8,1045.6L309.8,1053.6M301.8,1053.6L309.8,1045.6"/><path d="M320.4,1030.3L328.4,1038.3M320.4,1038.3L328.4,1030.3"/><path d="M340.2,993.7L348.2,1001.7M340.2,1001.7L348.2,993.7"/><path d="M359.4,1011.7L367.4,1019.7M359.4,1019.7L367.4,1011.7"/><path d="M381.0,979.5L389.0,987.5M381.0,987.5L389.0,979.5"/><path d="M401.2,1016.1L409.2,1024.1M401.2,1024.1L409.2,1016.1"/><path d="M420.9,1038.4L428.9,1046.4M420.9,1046.4L428.9,1038.4"/><path d="M439.9,1050.0L447.9,1058.0M439.9,1058.0L447.9,1050.0"/><path d="M460.3,1056.6L468.3,1064.6M460.3,1064.6L468.3,1056.6"/><path d="M480.0,1058.1L488.0,1066.1M480.0,1066.1L488.0,1058.1"/><path d="M499.7,1058.3L507.7,1066.3M499.7,1066.3L507.7,1058.3"/><path d="M518.0,1058.7L526.0,1066.7M518.0,1066.7L526.0,1058.7"/><path d="M538.0,1058.8L546.0,1066.8M538.0,1066.8L546.0,1058.8"/><path d="M558.5,1058.6L566.5,1066.6M558.5,1066.6L566.5,1058.6"/><path d="M579.2,1058.7L587.2,1066.7M579.2,1066.7L587.2,1058.7"/><path d="M599.7,1058.8L607.7,1066.8M599.7,1066.8L607.7,1058.8"/><path d="M619.4,1058.9L627.4,1066.9M619.4,1066.9L627.4,1058.9"/><path d="M640.6,1059.0L648.6,1067.0M640.6,1067.0L648.6,1059.0"/></g>
<path d="M82.5,1060.4L180.0,1058.2L200.0,1060.0L206.5,1067.2L215.0,1064.0L228.4,1061.3L264.2,1057.3L285.0,1052.5L293.8,1048.5L304.3,1039.8L317.9,1022.3L323.4,987.7L325.5,950.0L326.6,931.7L329.9,962.8Q332.6,1023.8 337.6,964.9L342.0,936.0L345.2,964.9Q348.1,1019.9 352.6,970.4L356.6,947.0L360.2,970.4Q364.1,1012.4 367.1,979.9L370.4,966.0L374.2,980.5Q378.1,1013.0 382.0,973.1L385.8,951.4L389.1,974.2Q391.7,1022.7 396.8,968.8L401.2,940.4L404.6,966.7Q407.5,1020.9 412.4,963.5L416.8,933.9L419.4,950.0L420.5,993.8L424.9,1022.3L432.6,1037.6L445.3,1045.9L454.4,1050.7L464.3,1054.7L485.0,1057.0L503.7,1058.5L520.0,1059.0L531.1,1067.2L545.0,1061.0L565.0,1059.1L659.3,1060.1" fill="none" stroke="#5ad21e" stroke-width="1.3" stroke-linejoin="round"/>
<path d="M82.5,1060.4L180.0,1058.2L200.0,1060.0L206.5,1067.2L215.0,1064.0L228.4,1061.3L264.2,1057.3L285.0,1052.5L293.8,1048.5L304.3,1039.8L317.9,1022.3L323.4,987.7L325.5,950.0L326.6,931.7L329.9,962.8Q332.6,1023.8 337.6,964.9L342.0,936.0L345.2,964.9Q348.1,1019.9 352.6,970.4L356.6,947.0L360.2,970.4Q364.1,1012.4 367.1,979.9L370.4,966.0L374.2,980.5Q378.1,1013.0 382.0,973.1L385.8,951.4L389.1,974.2Q391.7,1022.7 396.8,968.8L401.2,940.4L404.6,966.7Q407.5,1020.9 412.4,963.5L416.8,933.9L419.4,950.0L420.5,993.8L424.9,1022.3L432.6,1037.6L445.3,1045.9L454.4,1050.7L464.3,1054.7L485.0,1057.0L503.7,1058.5L520.0,1059.0L531.1,1067.2L545.0,1061.0L565.0,1059.1L659.3,1060.1" fill="none" stroke="#5ad21e" stroke-width="1.65" stroke-linejoin="round" clip-path="url(#cc)"/>
<g fill="none" stroke="#5ad21e" stroke-width="1.2"><path d="M80.5,1060.3H90.5M85.5,1055.3V1065.3"/><path d="M101.0,1059.9H111.0M106.0,1054.9V1064.9"/><path d="M121.4,1059.4H131.4M126.4,1054.4V1064.4"/><path d="M142.2,1058.9H152.2M147.2,1053.9V1063.9"/><path d="M162.6,1058.5H172.6M167.6,1053.5V1063.5"/><path d="M181.0,1058.7H191.0M186.0,1053.7V1063.7"/><path d="M202.0,1067.0H212.0M207.0,1062.0V1072.0"/><path d="M221.0,1061.8H231.0M226.0,1056.8V1066.8"/><path d="M240.0,1059.4H250.0M245.0,1054.4V1064.4"/><path d="M259.2,1057.3H269.2M264.2,1052.3V1062.3"/><path d="M280.0,1052.5H290.0M285.0,1047.5V1057.5"/><path d="M299.3,1039.8H309.3M304.3,1034.8V1044.8"/><path d="M318.4,987.7H328.4M323.4,982.7V992.7"/><path d="M338.1,963.3H348.1M343.1,958.3V968.3"/><path d="M358.9,993.8H368.9M363.9,988.8V998.8"/><path d="M380.8,951.4H390.8M385.8,946.4V956.4"/><path d="M399.5,990.0H409.5M404.5,985.0V995.0"/><path d="M419.9,1022.3H429.9M424.9,1017.3V1027.3"/><path d="M440.3,1045.9H450.3M445.3,1040.9V1050.9"/><path d="M459.3,1054.7H469.3M464.3,1049.7V1059.7"/><path d="M479.0,1056.9H489.0M484.0,1051.9V1061.9"/><path d="M498.7,1058.5H508.7M503.7,1053.5V1063.5"/><path d="M517.0,1060.5H527.0M522.0,1055.5V1065.5"/><path d="M537.0,1062.3H547.0M542.0,1057.3V1067.3"/><path d="M557.5,1059.3H567.5M562.5,1054.3V1064.3"/><path d="M578.2,1059.3H588.2M583.2,1054.3V1064.3"/><path d="M598.7,1059.5H608.7M603.7,1054.5V1064.5"/><path d="M618.4,1059.7H628.4M623.4,1054.7V1064.7"/><path d="M639.6,1059.9H649.6M644.6,1054.9V1064.9"/></g>
<path d="M82.5,1056.7L180.0,1053.1L200.0,1060.0L206.5,1073.0L212.0,1070.0L219.6,1061.3L228.4,1058.4L263.1,1050.7L283.9,1044.2L293.8,1037.6L302.6,1021.2L308.0,993.8L310.2,950.0L313.1,909.8L316.3,940.7Q319.3,1005.5 323.1,934.8L326.6,898.0L330.6,933.0Q334.8,1001.4 337.9,936.2L341.3,904.5L345.1,938.0Q349.1,1001.5 352.7,945.3L356.4,919.0L360.2,946.7Q364.4,998.6 367.4,953.7L370.7,933.0L373.5,953.2Q375.4,996.9 381.1,947.0L385.9,920.5L388.8,945.1Q390.7,997.2 396.4,939.4L401.1,909.0L404.4,939.4Q407.1,1002.9 412.1,933.7L416.5,897.7L419.2,935.6Q421.2,1005.6 426.4,947.1L430.8,920.7L433.0,950.0L434.7,982.8L439.1,1011.3L446.8,1032.8L456.6,1044.2L465.4,1048.5L485.1,1052.9L520.0,1055.0L531.1,1071.5L545.0,1058.0L565.0,1054.7L659.3,1056.9" fill="none" stroke="#55e1fa" stroke-width="1.3" stroke-linejoin="round"/>
<path d="M82.5,1056.7L180.0,1053.1L200.0,1060.0L206.5,1073.0L212.0,1070.0L219.6,1061.3L228.4,1058.4L263.1,1050.7L283.9,1044.2L293.8,1037.6L302.6,1021.2L308.0,993.8L310.2,950.0L313.1,909.8L316.3,940.7Q319.3,1005.5 323.1,934.8L326.6,898.0L330.6,933.0Q334.8,1001.4 337.9,936.2L341.3,904.5L345.1,938.0Q349.1,1001.5 352.7,945.3L356.4,919.0L360.2,946.7Q364.4,998.6 367.4,953.7L370.7,933.0L373.5,953.2Q375.4,996.9 381.1,947.0L385.9,920.5L388.8,945.1Q390.7,997.2 396.4,939.4L401.1,909.0L404.4,939.4Q407.1,1002.9 412.1,933.7L416.5,897.7L419.2,935.6Q421.2,1005.6 426.4,947.1L430.8,920.7L433.0,950.0L434.7,982.8L439.1,1011.3L446.8,1032.8L456.6,1044.2L465.4,1048.5L485.1,1052.9L520.0,1055.0L531.1,1071.5L545.0,1058.0L565.0,1054.7L659.3,1056.9" fill="none" stroke="#55e1fa" stroke-width="1.65" stroke-linejoin="round" clip-path="url(#cc)"/>
<g fill="none" stroke="#55e1fa" stroke-width="1.2"><path d="M85.5,1051.6V1061.6M81.9,1053.0L89.1,1060.2M81.9,1060.2L89.1,1053.0"/><path d="M106.0,1050.8V1060.8M102.4,1052.2L109.6,1059.4M102.4,1059.4L109.6,1052.2"/><path d="M126.4,1050.1V1060.1M122.8,1051.5L130.0,1058.7M122.8,1058.7L130.0,1051.5"/><path d="M147.2,1049.3V1059.3M143.6,1050.7L150.8,1057.9M143.6,1057.9L150.8,1050.7"/><path d="M167.6,1048.6V1058.6M164.0,1050.0L171.2,1057.2M164.0,1057.2L171.2,1050.0"/><path d="M186.0,1050.2V1060.2M182.4,1051.6L189.6,1058.8M182.4,1058.8L189.6,1051.6"/><path d="M207.0,1067.7V1077.7M203.4,1069.1L210.6,1076.3M203.4,1076.3L210.6,1069.1"/><path d="M226.0,1054.2V1064.2M222.4,1055.6L229.6,1062.8M222.4,1062.8L229.6,1055.6"/><path d="M245.0,1049.7V1059.7M241.4,1051.1L248.6,1058.3M241.4,1058.3L248.6,1051.1"/><path d="M263.1,1045.7V1055.7M259.5,1047.1L266.7,1054.3M259.5,1054.3L266.7,1047.1"/><path d="M283.9,1039.2V1049.2M280.3,1040.6L287.5,1047.8M280.3,1047.8L287.5,1040.6"/><path d="M302.6,1016.2V1026.2M299.0,1017.6L306.2,1024.8M299.0,1024.8L306.2,1017.6"/><path d="M321.2,958.3V968.3M317.6,959.7L324.8,966.9M317.6,966.9L324.8,959.7"/><path d="M343.1,901.5V911.5M339.5,902.9L346.7,910.1M339.5,910.1L346.7,902.9"/><path d="M363.9,968.0V978.0M360.3,969.4L367.5,976.6M360.3,976.6L367.5,969.4"/><path d="M385.8,917.9V927.9M382.2,919.3L389.4,926.5M382.2,926.5L389.4,919.3"/><path d="M408.5,960.6V970.6M404.9,962.0L412.1,969.2M404.9,969.2L412.1,962.0"/><path d="M428.6,930.0V940.0M425.0,931.4L432.2,938.6M425.0,938.6L432.2,931.4"/><path d="M446.8,1027.8V1037.8M443.2,1029.2L450.4,1036.4M443.2,1036.4L450.4,1029.2"/><path d="M465.4,1043.5V1053.5M461.8,1044.9L469.0,1052.1M461.8,1052.1L469.0,1044.9"/><path d="M485.0,1047.9V1057.9M481.4,1049.3L488.6,1056.5M481.4,1056.5L488.6,1049.3"/><path d="M503.7,1049.0V1059.0M500.1,1050.4L507.3,1057.6M500.1,1057.6L507.3,1050.4"/><path d="M522.0,1053.0V1063.0M518.4,1054.4L525.6,1061.6M518.4,1061.6L525.6,1054.4"/><path d="M542.0,1055.9V1065.9M538.4,1057.3L545.6,1064.5M538.4,1064.5L545.6,1057.3"/><path d="M562.5,1050.1V1060.1M558.9,1051.5L566.1,1058.7M558.9,1058.7L566.1,1051.5"/><path d="M583.2,1050.1V1060.1M579.6,1051.5L586.8,1058.7M579.6,1058.7L586.8,1051.5"/><path d="M603.7,1050.6V1060.6M600.1,1052.0L607.3,1059.2M600.1,1059.2L607.3,1052.0"/><path d="M623.4,1051.1V1061.1M619.8,1052.5L627.0,1059.7M619.8,1059.7L627.0,1052.5"/><path d="M644.6,1051.6V1061.6M641.0,1053.0L648.2,1060.2M641.0,1060.2L648.2,1053.0"/></g>
<path d="M82.5,1053.8L147.2,1050.0L167.6,1048.7L177.3,1045.3L186.1,1051.1L199.2,1065.7L203.6,1075.9L208.7,1074.5L212.0,1076.0L218.2,1058.4L227.7,1054.7L245.6,1048.9L263.4,1045.3L271.9,1042.0L282.4,1028.8L293.8,993.8L297.1,950.0L299.9,881.3L302.9,913.6Q305.6,980.9 309.1,908.1L312.4,870.4L316.0,898.8Q319.7,959.3 323.1,891.7L326.6,856.1L330.5,892.8Q334.6,963.7 337.6,897.8L340.9,866.0L345.2,902.6Q350.1,969.9 352.9,914.7L356.2,890.1L360.0,918.5Q364.0,967.2 367.5,935.0L371.1,922.9L374.1,935.0Q376.0,967.5 381.9,918.0L386.9,889.0L389.4,913.6Q391.0,967.2 396.6,904.9L401.2,871.5L405.1,898.9Q409.2,957.7 413.0,890.6L416.8,855.0L420.3,891.7Q423.8,962.1 427.3,897.8L430.8,867.1L434.1,906.5Q437.5,973.5 440.4,930.0L443.5,914.2L445.7,951.4L447.9,982.8L449.0,996.0L454.4,1015.7L466.9,1038.7L474.2,1046.3L485.1,1048.5L502.6,1048.2L512.0,1053.0L520.1,1060.0L526.0,1068.0L531.1,1075.9L537.0,1070.0L542.8,1064.2L553.0,1050.0L562.5,1043.8L570.0,1046.0L583.2,1049.6L603.7,1051.8L657.0,1053.7" fill="none" stroke="#1f74f7" stroke-width="1.3" stroke-linejoin="round"/>
<path d="M82.5,1053.8L147.2,1050.0L167.6,1048.7L177.3,1045.3L186.1,1051.1L199.2,1065.7L203.6,1075.9L208.7,1074.5L212.0,1076.0L218.2,1058.4L227.7,1054.7L245.6,1048.9L263.4,1045.3L271.9,1042.0L282.4,1028.8L293.8,993.8L297.1,950.0L299.9,881.3L302.9,913.6Q305.6,980.9 309.1,908.1L312.4,870.4L316.0,898.8Q319.7,959.3 323.1,891.7L326.6,856.1L330.5,892.8Q334.6,963.7 337.6,897.8L340.9,866.0L345.2,902.6Q350.1,969.9 352.9,914.7L356.2,890.1L360.0,918.5Q364.0,967.2 367.5,935.0L371.1,922.9L374.1,935.0Q376.0,967.5 381.9,918.0L386.9,889.0L389.4,913.6Q391.0,967.2 396.6,904.9L401.2,871.5L405.1,898.9Q409.2,957.7 413.0,890.6L416.8,855.0L420.3,891.7Q423.8,962.1 427.3,897.8L430.8,867.1L434.1,906.5Q437.5,973.5 440.4,930.0L443.5,914.2L445.7,951.4L447.9,982.8L449.0,996.0L454.4,1015.7L466.9,1038.7L474.2,1046.3L485.1,1048.5L502.6,1048.2L512.0,1053.0L520.1,1060.0L526.0,1068.0L531.1,1075.9L537.0,1070.0L542.8,1064.2L553.0,1050.0L562.5,1043.8L570.0,1046.0L583.2,1049.6L603.7,1051.8L657.0,1053.7" fill="none" stroke="#1f74f7" stroke-width="1.65" stroke-linejoin="round" clip-path="url(#cc)"/>
<g fill="none" stroke="#1f74f7" stroke-width="1.2"><path d="M85.5,1044.7L90.8,1052.3L85.5,1059.9L80.2,1052.3Z"/><path d="M106.0,1044.7L111.3,1052.3L106.0,1059.9L100.7,1052.3Z"/><path d="M126.4,1044.0L131.7,1051.6L126.4,1059.2L121.1,1051.6Z"/><path d="M147.2,1041.8L152.5,1049.4L147.2,1057.0L141.9,1049.4Z"/><path d="M167.6,1041.1L172.9,1048.7L167.6,1056.3L162.3,1048.7Z"/><path d="M186.1,1043.5L191.4,1051.1L186.1,1058.7L180.8,1051.1Z"/><path d="M208.7,1066.9L214.0,1074.5L208.7,1082.1L203.4,1074.5Z"/><path d="M227.7,1047.1L233.0,1054.7L227.7,1062.3L222.4,1054.7Z"/><path d="M245.6,1041.3L250.9,1048.9L245.6,1056.5L240.3,1048.9Z"/><path d="M263.4,1037.7L268.7,1045.3L263.4,1052.9L258.1,1045.3Z"/><path d="M282.4,1021.2L287.7,1028.8L282.4,1036.4L277.1,1028.8Z"/><path d="M299.9,883.6L305.2,891.2L299.9,898.8L294.6,891.2Z"/><path d="M319.6,919.7L324.9,927.3L319.6,934.9L314.3,927.3Z"/><path d="M341.0,857.9L346.3,865.5L341.0,873.1L335.7,865.5Z"/><path d="M363.9,939.4L369.2,947.0L363.9,954.6L358.6,947.0Z"/><path d="M386.9,881.4L392.2,889.0L386.9,896.6L381.6,889.0Z"/><path d="M409.1,918.6L414.4,926.2L409.1,933.8L403.8,926.2Z"/><path d="M430.8,859.5L436.1,867.1L430.8,874.7L425.5,867.1Z"/><path d="M449.0,988.4L454.3,996.0L449.0,1003.6L443.7,996.0Z"/><path d="M466.9,1031.1L472.2,1038.7L466.9,1046.3L461.6,1038.7Z"/><path d="M485.1,1040.9L490.4,1048.5L485.1,1056.1L479.8,1048.5Z"/><path d="M502.6,1040.6L507.9,1048.2L502.6,1055.8L497.3,1048.2Z"/><path d="M520.1,1053.7L525.4,1061.3L520.1,1068.9L514.8,1061.3Z"/><path d="M542.8,1056.6L548.1,1064.2L542.8,1071.8L537.5,1064.2Z"/><path d="M562.5,1036.2L567.8,1043.8L562.5,1051.4L557.2,1043.8Z"/><path d="M583.2,1042.0L588.5,1049.6L583.2,1057.2L577.9,1049.6Z"/><path d="M603.7,1044.2L609.0,1051.8L603.7,1059.4L598.4,1051.8Z"/><path d="M623.4,1044.9L628.7,1052.5L623.4,1060.1L618.1,1052.5Z"/><path d="M644.6,1045.4L649.9,1053.0L644.6,1060.6L639.3,1053.0Z"/></g>
<path d="M82.5,1049.4L147.2,1045.8L167.6,1042.1L177.3,1035.0L189.0,1039.4L199.2,1058.4L205.0,1081.8L208.0,1084.7L212.0,1082.0L218.2,1052.6L227.7,1043.8L245.6,1046.7L263.1,1037.6L267.5,1031.0L275.2,1015.7L279.6,999.9L281.7,982.8L283.9,970.0L286.1,930.0L288.3,882.4L290.5,902.6Q292.0,956.3 296.3,876.4L299.9,829.9L302.2,855.0Q303.8,909.6 308.6,845.9L312.6,811.7L315.1,839.4Q316.7,897.0 322.3,834.6L326.9,802.3L329.9,840.6Q332.4,913.7 336.8,847.9L340.7,816.8L345.5,858.3Q351.1,933.8 353.5,873.6L356.6,847.4L360.2,881.8Q363.9,939.5 367.5,904.3L371.1,892.3L373.9,903.2Q375.7,935.4 381.1,882.9L385.6,851.5L389.1,874.6Q392.0,928.2 396.9,859.9L401.2,822.0L405.4,849.0Q409.9,909.7 413.2,835.5L416.8,795.1L421.4,829.5Q426.9,895.5 428.8,834.7L431.5,805.6L435.1,845.1Q439.0,913.9 441.6,865.5L444.6,846.3L448.2,883.1Q452.7,942.1 453.6,912.7L455.5,905.4L457.7,951.4L459.9,993.8L468.7,1020.0L474.2,1035.4L485.1,1044.2L493.9,1043.1L502.6,1047.4L511.4,1044.2L520.5,1051.5L526.0,1060.0L532.6,1081.8L537.0,1075.0L541.3,1061.3L550.0,1045.0L561.0,1035.0L565.0,1036.5L582.5,1042.3L603.0,1045.3L623.0,1048.5L643.5,1050.5L656.2,1051.4" fill="none" stroke="#e8461e" stroke-width="1.3" stroke-linejoin="round"/>
<path d="M82.5,1049.4L147.2,1045.8L167.6,1042.1L177.3,1035.0L189.0,1039.4L199.2,1058.4L205.0,1081.8L208.0,1084.7L212.0,1082.0L218.2,1052.6L227.7,1043.8L245.6,1046.7L263.1,1037.6L267.5,1031.0L275.2,1015.7L279.6,999.9L281.7,982.8L283.9,970.0L286.1,930.0L288.3,882.4L290.5,902.6Q292.0,956.3 296.3,876.4L299.9,829.9L302.2,855.0Q303.8,909.6 308.6,845.9L312.6,811.7L315.1,839.4Q316.7,897.0 322.3,834.6L326.9,802.3L329.9,840.6Q332.4,913.7 336.8,847.9L340.7,816.8L345.5,858.3Q351.1,933.8 353.5,873.6L356.6,847.4L360.2,881.8Q363.9,939.5 367.5,904.3L371.1,892.3L373.9,903.2Q375.7,935.4 381.1,882.9L385.6,851.5L389.1,874.6Q392.0,928.2 396.9,859.9L401.2,822.0L405.4,849.0Q409.9,909.7 413.2,835.5L416.8,795.1L421.4,829.5Q426.9,895.5 428.8,834.7L431.5,805.6L435.1,845.1Q439.0,913.9 441.6,865.5L444.6,846.3L448.2,883.1Q452.7,942.1 453.6,912.7L455.5,905.4L457.7,951.4L459.9,993.8L468.7,1020.0L474.2,1035.4L485.1,1044.2L493.9,1043.1L502.6,1047.4L511.4,1044.2L520.5,1051.5L526.0,1060.0L532.6,1081.8L537.0,1075.0L541.3,1061.3L550.0,1045.0L561.0,1035.0L565.0,1036.5L582.5,1042.3L603.0,1045.3L623.0,1048.5L643.5,1050.5L656.2,1051.4" fill="none" stroke="#e8461e" stroke-width="1.65" stroke-linejoin="round" clip-path="url(#cc)"/>
<g fill="none" stroke="#e8461e" stroke-width="1.2"><path d="M79.3,1048.2H91.7L85.5,1059.3Z"/><path d="M99.8,1047.2H112.2L106.0,1058.3Z"/><path d="M120.2,1045.7H132.6L126.4,1056.8Z"/><path d="M141.0,1042.1H153.4L147.2,1053.2Z"/><path d="M161.4,1038.4H173.8L167.6,1049.5Z"/><path d="M182.8,1035.7H195.2L189.0,1046.8Z"/><path d="M201.8,1081.0H214.2L208.0,1092.1Z"/><path d="M221.5,1040.1H233.9L227.7,1051.2Z"/><path d="M239.4,1043.0H251.8L245.6,1054.1Z"/><path d="M257.2,1033.5H269.6L263.4,1044.6Z"/><path d="M273.4,996.2H285.8L279.6,1007.3Z"/><path d="M290.2,856.8H302.6L296.4,867.9Z"/><path d="M311.5,861.6H323.9L317.7,872.7Z"/><path d="M334.5,822.5H346.9L340.7,833.6Z"/><path d="M357.7,912.6H370.1L363.9,923.7Z"/><path d="M379.7,848.0H392.1L385.9,859.1Z"/><path d="M403.4,869.3H415.8L409.6,880.4Z"/><path d="M426.4,826.2H438.8L432.6,837.3Z"/><path d="M445.6,923.6H458.0L451.8,934.7Z"/><path d="M462.5,1016.3H474.9L468.7,1027.4Z"/><path d="M478.9,1040.5H491.3L485.1,1051.6Z"/><path d="M496.4,1043.7H508.8L502.6,1054.8Z"/><path d="M514.7,1047.4H527.1L520.9,1058.5Z"/><path d="M535.1,1057.6H547.5L541.3,1068.7Z"/><path d="M554.8,1031.3H567.2L561.0,1042.4Z"/><path d="M576.3,1038.6H588.7L582.5,1049.7Z"/><path d="M596.8,1041.6H609.2L603.0,1052.7Z"/><path d="M617.0,1044.8H629.4L623.2,1055.9Z"/><path d="M637.3,1046.8H649.7L643.5,1057.9Z"/></g>
<path d="M82.5,1049.0L106.0,1047.0L126.4,1043.6L147.2,1039.7L167.6,1034.6L180.9,1025.5L189.0,1032.8L194.1,1039.4L199.2,1052.6L205.0,1073.0L207.2,1089.0L209.8,1091.0L212.3,1089.0L215.3,1073.0L218.2,1055.5L222.6,1046.7L229.1,1040.1L235.7,1043.8L245.6,1039.4L252.0,1037.0L257.6,1030.7L262.0,1020.4L266.4,1000.0L270.8,982.8L273.0,970.0L275.2,929.5L276.3,905.0L278.0,880.2L280.7,903.2L282.8,863.8L286.1,831.0L287.4,810.9L289.1,818.5Q289.3,853.2 295.8,779.8L300.6,733.4L301.7,747.5Q302.9,769.2 303.8,760.2L304.8,758.9L306.1,768.3Q306.6,795.8 310.2,750.9L313.0,724.0L314.7,747.9Q316.4,790.0 318.1,759.0L319.8,746.2L320.6,755.5Q320.8,778.1 323.8,747.9L326.1,730.9L329.0,771.8Q330.9,846.9 336.5,784.9L341.2,757.2L345.4,805.8Q350.4,891.6 352.6,828.3L355.6,802.3L359.7,841.0Q364.1,904.1 367.2,870.0L370.6,860.2L373.1,869.5Q374.6,902.7 380.5,840.6L385.4,802.3L388.8,827.0Q391.8,886.6 396.4,806.7L400.5,761.6L404.9,787.5Q409.8,851.1 413.0,764.2L416.7,715.0L418.4,738.0Q420.1,777.1 422.2,751.8L424.2,742.6L425.4,761.0Q425.9,803.4 428.8,749.5L431.1,719.6L433.2,743.5Q435.4,783.8 437.1,759.0L438.9,750.4L439.8,765.5Q440.2,792.9 442.2,771.5L443.9,762.3L448.2,800.9Q453.8,864.5 454.5,828.1L456.4,816.8L457.3,850.0L459.9,863.8L462.1,914.2L465.0,916.3L467.6,951.4L468.7,971.9L470.9,987.2L476.3,1006.9L482.9,1026.6L486.2,1034.3L491.7,1040.9L502.6,1039.8L511.4,1043.1L519.0,1047.4L523.8,1055.5L526.7,1068.6L528.2,1084.7L534.7,1089.8L537.7,1073.0L539.1,1061.3L544.2,1049.6L553.0,1035.0L560.3,1026.3L565.0,1029.5L581.8,1037.0L602.2,1041.4L623.1,1045.1L643.5,1048.7L655.5,1051.0" fill="none" stroke="#edb120" stroke-width="1.3" stroke-linejoin="round"/>
<path d="M82.5,1049.0L106.0,1047.0L126.4,1043.6L147.2,1039.7L167.6,1034.6L180.9,1025.5L189.0,1032.8L194.1,1039.4L199.2,1052.6L205.0,1073.0L207.2,1089.0L209.8,1091.0L212.3,1089.0L215.3,1073.0L218.2,1055.5L222.6,1046.7L229.1,1040.1L235.7,1043.8L245.6,1039.4L252.0,1037.0L257.6,1030.7L262.0,1020.4L266.4,1000.0L270.8,982.8L273.0,970.0L275.2,929.5L276.3,905.0L278.0,880.2L280.7,903.2L282.8,863.8L286.1,831.0L287.4,810.9L289.1,818.5Q289.3,853.2 295.8,779.8L300.6,733.4L301.7,747.5Q302.9,769.2 303.8,760.2L304.8,758.9L306.1,768.3Q306.6,795.8 310.2,750.9L313.0,724.0L314.7,747.9Q316.4,790.0 318.1,759.0L319.8,746.2L320.6,755.5Q320.8,778.1 323.8,747.9L326.1,730.9L329.0,771.8Q330.9,846.9 336.5,784.9L341.2,757.2L345.4,805.8Q350.4,891.6 352.6,828.3L355.6,802.3L359.7,841.0Q364.1,904.1 367.2,870.0L370.6,860.2L373.1,869.5Q374.6,902.7 380.5,840.6L385.4,802.3L388.8,827.0Q391.8,886.6 396.4,806.7L400.5,761.6L404.9,787.5Q409.8,851.1 413.0,764.2L416.7,715.0L418.4,738.0Q420.1,777.1 422.2,751.8L424.2,742.6L425.4,761.0Q425.9,803.4 428.8,749.5L431.1,719.6L433.2,743.5Q435.4,783.8 437.1,759.0L438.9,750.4L439.8,765.5Q440.2,792.9 442.2,771.5L443.9,762.3L448.2,800.9Q453.8,864.5 454.5,828.1L456.4,816.8L457.3,850.0L459.9,863.8L462.1,914.2L465.0,916.3L467.6,951.4L468.7,971.9L470.9,987.2L476.3,1006.9L482.9,1026.6L486.2,1034.3L491.7,1040.9L502.6,1039.8L511.4,1043.1L519.0,1047.4L523.8,1055.5L526.7,1068.6L528.2,1084.7L534.7,1089.8L537.7,1073.0L539.1,1061.3L544.2,1049.6L553.0,1035.0L560.3,1026.3L565.0,1029.5L581.8,1037.0L602.2,1041.4L623.1,1045.1L643.5,1048.7L655.5,1051.0" fill="none" stroke="#edb120" stroke-width="1.65" stroke-linejoin="round" clip-path="url(#cc)"/>
<g fill="none" stroke="#edb120" stroke-width="1.2"><path d="M79.3,1053.0H91.7L85.5,1041.9Z"/><path d="M99.8,1051.2H112.2L106.0,1040.1Z"/><path d="M120.2,1047.9H132.6L126.4,1036.8Z"/><path d="M141.0,1044.0H153.4L147.2,1032.9Z"/><path d="M161.4,1038.9H173.8L167.6,1027.8Z"/><path d="M182.8,1036.5H195.2L189.0,1025.4Z"/><path d="M201.0,1092.7H213.4L207.2,1081.6Z"/><path d="M206.1,1092.7H218.5L212.3,1081.6Z"/><path d="M222.9,1043.8H235.3L229.1,1032.7Z"/><path d="M239.4,1043.1H251.8L245.6,1032.0Z"/><path d="M255.8,1024.1H268.2L262.0,1013.0Z"/><path d="M270.1,908.7H282.5L276.3,897.6Z"/><path d="M287.2,811.1H299.6L293.4,800.0Z"/><path d="M308.3,765.2H320.7L314.5,754.1Z"/><path d="M333.3,789.0H345.7L339.5,777.9Z"/><path d="M357.6,883.5H370.0L363.8,872.4Z"/><path d="M381.8,818.0H394.2L388.0,806.9Z"/><path d="M406.1,795.5H418.5L412.3,784.4Z"/><path d="M429.1,771.2H441.5L435.3,760.1Z"/><path d="M450.2,820.5H462.6L456.4,809.4Z"/><path d="M464.7,990.9H477.1L470.9,979.8Z"/><path d="M480.0,1038.0H492.4L486.2,1026.9Z"/><path d="M496.4,1043.5H508.8L502.6,1032.4Z"/><path d="M513.2,1051.9H525.6L519.4,1040.8Z"/><path d="M532.9,1065.0H545.3L539.1,1053.9Z"/><path d="M554.1,1030.0H566.5L560.3,1018.9Z"/><path d="M575.6,1040.7H588.0L581.8,1029.6Z"/><path d="M596.0,1045.1H608.4L602.2,1034.0Z"/><path d="M616.9,1048.8H629.3L623.1,1037.7Z"/><path d="M637.3,1052.4H649.7L643.5,1041.3Z"/></g>
<rect x="480.8" y="667.6" width="161.49999999999994" height="200.10000000000002" fill="#fff" stroke="#444" stroke-width="1.3"/>
<polyline points="490.4,680.9 530.0,680.9" fill="none" stroke="#2d7cf5" stroke-width="1.2" stroke-linejoin="round"/>
<text x="536.9" y="686.1" class="lg">IE 0.0 mm</text>
<polyline points="490.4,702.7 530.0,702.7" fill="none" stroke="#eb5a3c" stroke-width="1.2" stroke-linejoin="round" stroke-dasharray="10.8,3.9,3.1,3.9"/>
<text x="536.9" y="707.9" class="lg">IE 0.2 mm</text>
<polyline points="490.4,724.5 530.0,724.5" fill="none" stroke="#edb120" stroke-width="1.2" stroke-linejoin="round"/>
<g fill="none" stroke="#edb120" stroke-width="1.2"><circle cx="510.3" cy="724.5" r="5.2"/></g>
<text x="536.9" y="729.7" class="lg">IE 1.5 mm</text>
<polyline points="490.4,746.3 530.0,746.3" fill="none" stroke="#6a22d8" stroke-width="1.2" stroke-linejoin="round"/>
<g fill="none" stroke="#6a22d8" stroke-width="1.2"><path d="M506.3,742.3L514.3,750.3M506.3,750.3L514.3,742.3"/></g>
<text x="536.9" y="751.5" class="lg">IE 2.8 mm</text>
<polyline points="490.4,768.1 530.0,768.1" fill="none" stroke="#5ad21e" stroke-width="1.2" stroke-linejoin="round"/>
<g fill="none" stroke="#5ad21e" stroke-width="1.2"><path d="M505.3,768.1H515.3M510.3,763.1V773.1"/></g>
<text x="536.9" y="773.3" class="lg">IE 4.0 mm</text>
<polyline points="490.4,789.8 530.0,789.8" fill="none" stroke="#55e1fa" stroke-width="1.2" stroke-linejoin="round"/>
<g fill="none" stroke="#55e1fa" stroke-width="1.2"><path d="M510.3,784.8V794.8M506.7,786.2L513.9,793.4M506.7,793.4L513.9,786.2"/></g>
<text x="536.9" y="795.0" class="lg">IE 5.3 mm</text>
<polyline points="490.4,811.6 530.0,811.6" fill="none" stroke="#1f74f7" stroke-width="1.2" stroke-linejoin="round"/>
<g fill="none" stroke="#1f74f7" stroke-width="1.2"><path d="M510.3,804.0L515.6,811.6L510.3,819.2L505.0,811.6Z"/></g>
<text x="536.9" y="816.8" class="lg">IE 6.5 mm</text>
<polyline points="490.4,833.4 530.0,833.4" fill="none" stroke="#e8461e" stroke-width="1.2" stroke-linejoin="round"/>
<g fill="none" stroke="#e8461e" stroke-width="1.2"><path d="M504.1,829.7H516.5L510.3,840.8Z"/></g>
<text x="536.9" y="838.6" class="lg">IE 7.8 mm</text>
<polyline points="490.4,855.2 530.0,855.2" fill="none" stroke="#edb120" stroke-width="1.2" stroke-linejoin="round"/>
<g fill="none" stroke="#edb120" stroke-width="1.2"><path d="M504.1,858.9H516.5L510.3,847.8Z"/></g>
<text x="536.9" y="860.4" class="lg">IE 9.0 mm</text>
</svg>
</body></html>
